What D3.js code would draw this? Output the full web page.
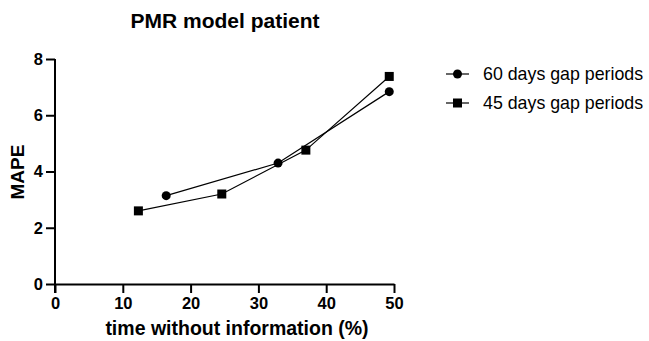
<!DOCTYPE html>
<html><head><meta charset="utf-8">
<script src="https://cdn.jsdelivr.net/npm/d3@7"></script>
<style>body{margin:0;background:#fff}svg{display:block}text{font-family:"Liberation Sans",Arial,sans-serif}</style>
</head><body>
<svg id="c" width="649" height="341"></svg>
<script>
const xTicks = [0, 10, 20, 30, 40, 50];
const yTicks = [0, 2, 4, 6, 8];
const series60X = [16.4, 32.9, 49.3];
const series60Y = [3.14, 4.3, 6.84];
const series45X = [12.3, 24.6, 37.0, 49.3];
const series45Y = [2.6, 3.2, 4.76, 7.38];
const seriesNames = ["60 days gap periods", "45 days gap periods"];

const svg = d3.select("#c");
const x = d3.scaleLinear().domain([0, 50]).range([55, 394]);
const y = d3.scaleLinear().domain([0, 8]).range([284, 59]);

svg.append("text").attr("x", 225).attr("y", 28).attr("text-anchor", "middle")
  .attr("font-size", 21).attr("font-weight", "bold").text("PMR model patient");

const xa = svg.append("g").attr("transform", "translate(0,284)")
  .call(d3.axisBottom(x).tickValues(xTicks).tickSize(9).tickPadding(4).tickSizeOuter(0));
const ya = svg.append("g").attr("transform", "translate(55,0)")
  .call(d3.axisLeft(y).tickValues(yTicks).tickSize(9).tickPadding(3).tickSizeOuter(0));
[xa, ya].forEach(a => {
  a.select(".domain").attr("stroke", "#000").attr("stroke-width", 2);
  a.selectAll(".tick line").attr("stroke", "#000").attr("stroke-width", 2);
  a.selectAll(".tick text").attr("font-size", 16.5).attr("font-weight", "bold")
    .attr("fill", "#000").style("font-family", '"Liberation Sans",Arial,sans-serif');
});
ya.select(".domain").attr("d", "M0," + (y(8)) + "V" + (y(0) + 9));

svg.append("text").attr("x", 237).attr("y", 335).attr("text-anchor", "middle")
  .attr("font-size", 19.5).attr("font-weight", "bold").text("time without information (%)");
svg.append("text").attr("transform", "translate(24,172) rotate(-90)").attr("text-anchor", "middle")
  .attr("font-size", 19).attr("font-weight", "bold").text("MAPE");

const line = d3.line().x(d => x(d[0])).y(d => y(d[1]));
const d60 = series60X.map((v, i) => [v, series60Y[i]]);
const d45 = series45X.map((v, i) => [v, series45Y[i]]);

svg.append("path").datum(d60).attr("d", line).attr("fill", "none").attr("stroke", "#000").attr("stroke-width", 1.2);
svg.append("path").datum(d45).attr("d", line).attr("fill", "none").attr("stroke", "#000").attr("stroke-width", 1.2);

svg.selectAll(".c60").data(d60).enter().append("circle")
  .attr("cx", d => x(d[0])).attr("cy", d => y(d[1])).attr("r", 4.5).attr("fill", "#000");
svg.selectAll(".s45").data(d45).enter().append("rect")
  .attr("x", d => x(d[0]) - 4.5).attr("y", d => y(d[1]) - 4.5).attr("width", 9).attr("height", 9).attr("fill", "#000");

const lg = svg.append("g");
[74, 103].forEach((cy, i) => {
  lg.append("line").attr("x1", 446).attr("x2", 469).attr("y1", cy).attr("y2", cy).attr("stroke", "#000").attr("stroke-width", 1.2);
  if (i === 0) lg.append("circle").attr("cx", 457.5).attr("cy", cy).attr("r", 4.5).attr("fill", "#000");
  else lg.append("rect").attr("x", 453).attr("y", cy - 4.5).attr("width", 9).attr("height", 9).attr("fill", "#000");
  lg.append("text").attr("x", 483).attr("y", cy).attr("dy", "0.35em").attr("font-size", 17.8).text(seriesNames[i]);
});
</script>
</body></html>
